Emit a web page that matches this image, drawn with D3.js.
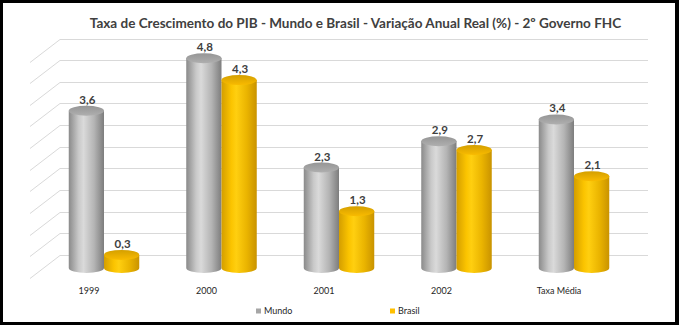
<!DOCTYPE html>
<html><head><meta charset="utf-8">
<script src="https://cdn.jsdelivr.net/npm/d3@7"></script>
<style>html,body{margin:0;padding:0;background:#000;} svg{display:block;}</style>
</head><body><svg id="chart" width="679" height="325"></svg>
<script>
// Data
const categories = ["1999", "2000", "2001", "2002", "Taxa Média"];
const seriesNames = ["Mundo", "Brasil"];
const mundo = [3.6, 4.8, 2.3, 2.9, 3.4];
const brasil = [0.3, 4.3, 1.3, 2.7, 2.1];
const gridTicks = [0, 0.5, 1, 1.5, 2, 2.5, 3, 3.5, 4, 4.5, 5];
const titleText = "Taxa de Crescimento do PIB - Mundo e Brasil - Variação Anual Real (%) - 2º Governo FHC";

const seriesValues = { Mundo: mundo, Brasil: brasil };
const palette = {
  Mundo:  { stops: ["#8a8a8a", "#c9c9c9", "#dadada", "#b4b4b4", "#7d7d7d"], top: "#a3a3a3", key: "#a6a6a6" },
  Brasil: { stops: ["#d49e00", "#fbc400", "#ffcf10", "#eab400", "#c99300"], top: "#e8ae00", key: "#ffc000" }
};

const W = 679, H = 325;
const svg = d3.select("#chart");
const FONT = "Lato, 'Open Sans', sans-serif";
const ink = "#404040";

// frame
svg.append("rect").attr("width", W).attr("height", H).attr("fill", "#000");
svg.append("rect").attr("x", 3).attr("y", 3).attr("width", 672).attr("height", 319).attr("fill", "#fff");

// defs: cylinder gradients
const defs = svg.append("defs");
seriesNames.forEach(s => {
  const g = defs.append("linearGradient").attr("id", "grad-" + s)
    .attr("x1", 0).attr("x2", 1).attr("y1", 0).attr("y2", 0);
  const offs = [0, 0.28, 0.42, 0.72, 1];
  palette[s].stops.forEach((c, i) => g.append("stop").attr("offset", offs[i]).attr("stop-color", c));
  const t = defs.append("linearGradient").attr("id", "top-" + s)
    .attr("x1", 0).attr("x2", 0).attr("y1", 0).attr("y2", 1);
  t.append("stop").attr("offset", 0).attr("stop-color", d3.color(palette[s].top).darker(0.25));
  t.append("stop").attr("offset", 1).attr("stop-color", d3.color(palette[s].top).brighter(0.2));
});

// back wall scale and gridlines with side-wall diagonals
const yWall = d3.scaleLinear().domain([0, 5]).range([255, 38.5]);
const wallLeft = 60, wallRight = 648, sideDx = -30, sideDy = 23;
const grid = svg.append("g").attr("stroke", "#d9d9d9").attr("stroke-width", 1).attr("fill", "none");
gridTicks.forEach(t => {
  const y = Math.round(yWall(t)) + 0.5;
  grid.append("line").attr("x1", wallLeft).attr("x2", wallRight).attr("y1", y).attr("y2", y);
  grid.append("line").attr("x1", wallLeft).attr("y1", y).attr("x2", wallLeft + sideDx).attr("y2", y + sideDy);
});

// front scales for the bars
const x0 = d3.scaleBand().domain(categories).range([45.25, 632.75]).paddingInner(0.4).paddingOuter(0.2);
const x1 = d3.scaleBand().domain(seriesNames).range([0, x0.bandwidth()]);
const yFront = d3.scaleLinear().domain([0, 5]).range([268, 49.5]);
const ry = 5;

const bars = svg.append("g");
seriesNames.forEach(s => {
  seriesValues[s].forEach((v, i) => {
    const cat = categories[i];
    const w = x1.bandwidth();
    const cx = x0(cat) + x1(s) + w / 2;
    const rx = w / 2;
    const yT = yFront(v), yB = yFront(0);
    const g = bars.append("g");
    g.append("path")
      .attr("d", `M${cx - rx},${yT} L${cx - rx},${yB} A${rx},${ry} 0 0 0 ${cx + rx},${yB} L${cx + rx},${yT} Z`)
      .attr("fill", `url(#grad-${s})`);
    g.append("ellipse").attr("cx", cx).attr("cy", yT).attr("rx", rx).attr("ry", ry)
      .attr("fill", `url(#top-${s})`);
    g.append("text").attr("x", cx + 1).attr("y", yT - 11).attr("dy", "0.35em")
      .attr("text-anchor", "middle").attr("font-family", FONT).attr("font-weight", 700)
      .attr("font-size", 11.5).attr("fill", ink)
      .text(d3.format(".1f")(v).replace(".", ","));
  });
});

// category labels along the front floor edge
svg.append("g").selectAll("text").data(categories).join("text")
  .attr("x", d => x0(d) + x0.bandwidth() / 2 - 15)
  .attr("y", 291).attr("dy", "0.35em").attr("text-anchor", "middle")
  .attr("font-family", FONT).attr("font-size", 9).attr("fill", "#262626")
  .text(d => d);

// legend
const legendX = { Mundo: 256, Brasil: 390 };
const leg = svg.append("g");
seriesNames.forEach(s => {
  leg.append("rect").attr("x", legendX[s]).attr("y", 308.5).attr("width", 5).attr("height", 5).attr("fill", palette[s].key);
  leg.append("text").attr("x", legendX[s] + 8).attr("y", 311).attr("dy", "0.35em")
    .attr("font-family", FONT).attr("font-size", 9).attr("fill", "#262626").text(s);
});

// title, sized to span its line
const title = svg.append("text").attr("x", 355.5).attr("y", 23).attr("dy", "0.35em")
  .attr("text-anchor", "middle").attr("font-family", FONT).attr("font-weight", 700)
  .attr("font-size", 15).attr("fill", ink).text(titleText);
const tw = title.node().getComputedTextLength();
title.attr("font-size", 15 * 532 / tw);
</script>
</body></html>
